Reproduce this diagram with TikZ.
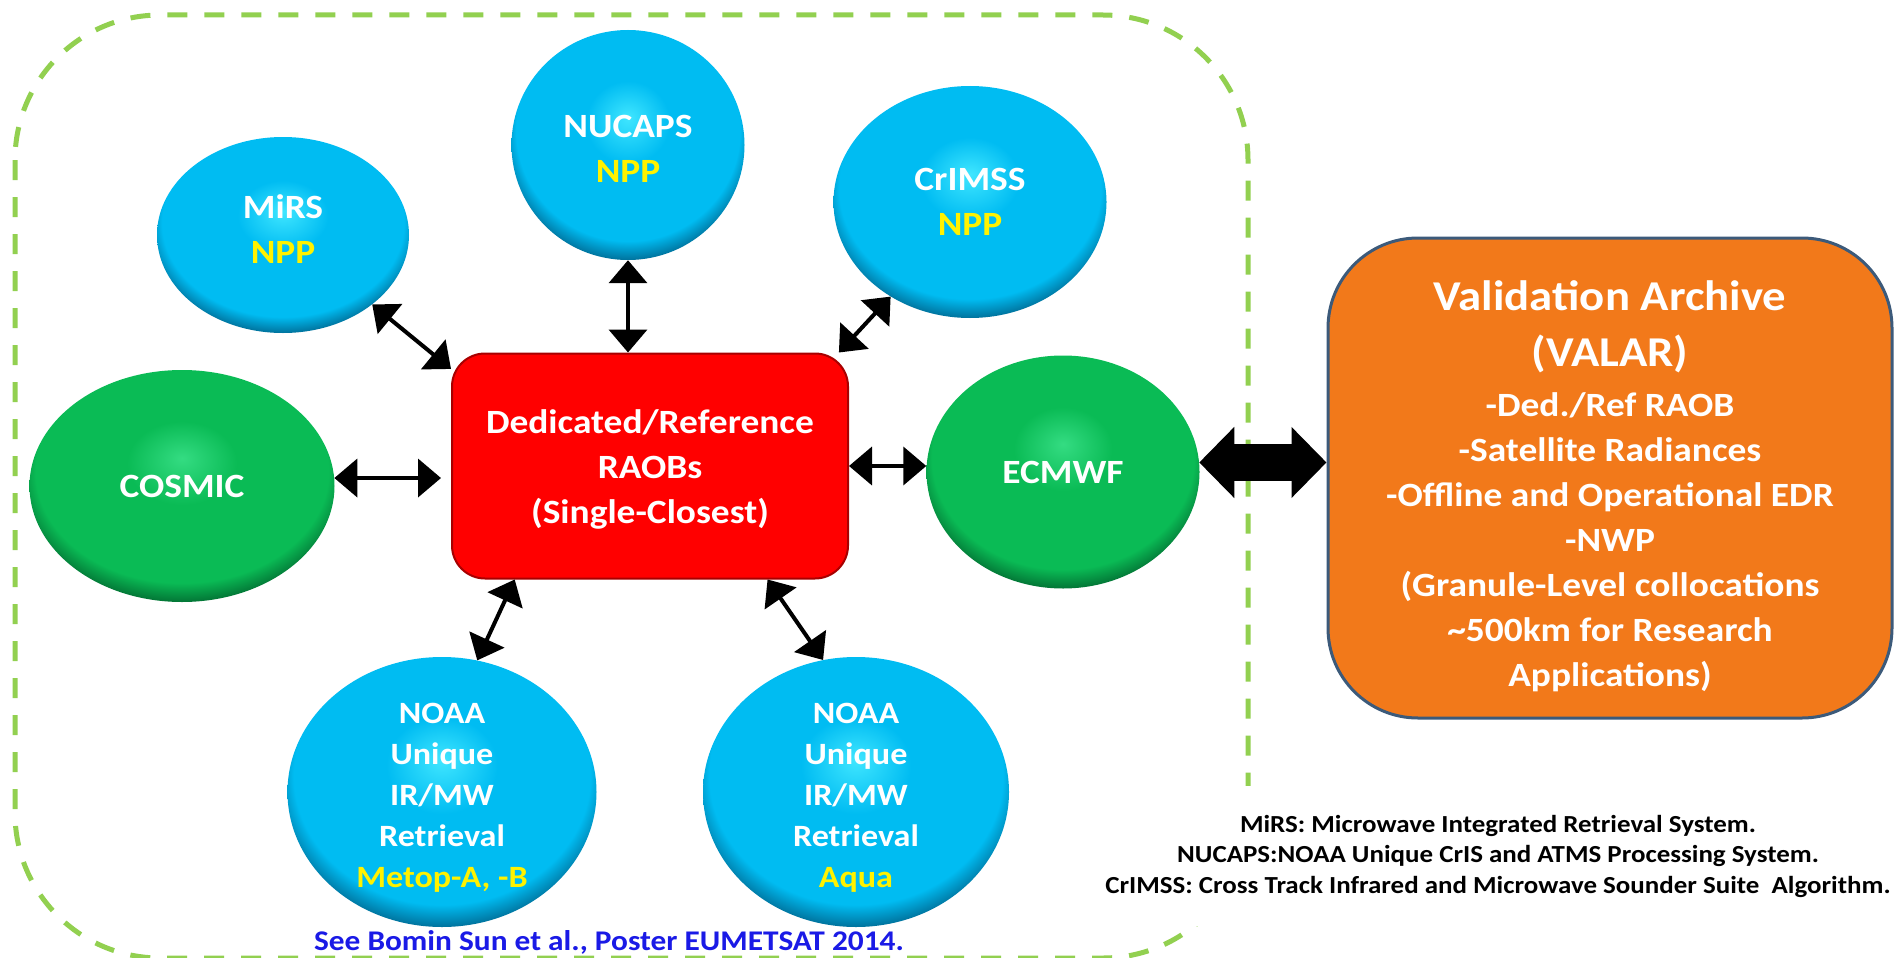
\documentclass[tikz,border=0pt]{standalone}
\usepackage{fontspec}
\setmainfont{Carlito}[FakeStretch=1.1]
\usetikzlibrary{shapes.geometric,arrows.meta}
\definecolor{skyb}{HTML}{00BCF2}
\definecolor{skyhi}{HTML}{40E6FF}
\definecolor{skydk}{HTML}{00587E}
\definecolor{grnb}{HTML}{0ABB55}
\definecolor{grnhi}{HTML}{34DC82}
\definecolor{grndk}{HTML}{005C2A}
\definecolor{dashgrn}{HTML}{92D050}
\definecolor{raobdk}{HTML}{A80000}
\definecolor{valorg}{HTML}{F2791A}
\definecolor{valdk}{HTML}{3C5A7A}
\definecolor{noteblue}{HTML}{1A1AE6}
\pgfdeclareradialshading{bluegloss}{\pgfpoint{0bp}{6bp}}{color(0bp)=(skyhi); color(9bp)=(skyb); color(24bp)=(skyb); color(29bp)=(skydk); color(50bp)=(skydk)}
\pgfdeclareradialshading{greengloss}{\pgfpoint{0bp}{6bp}}{color(0bp)=(grnhi); color(9bp)=(grnb); color(24bp)=(grnb); color(29bp)=(grndk); color(50bp)=(grndk)}
\begin{document}
\begin{tikzpicture}[x=1pt,y=-1pt,line join=round,>={Triangle[length=23pt,width=38pt]},
	bub/.style={ellipse,inner sep=-15pt,align=center,text=white,font=\fontsize{34}{45}\selectfont\bfseries,shade},
	bluebub/.style={bub,shading=bluegloss},
	greenbub/.style={bub,shading=greengloss},
	five/.style={font=\fontsize{31}{41}\selectfont\bfseries},
	fat/.style={line width=37pt,{Triangle[length=35pt,width=69pt]}-{Triangle[length=35pt,width=69pt]}}]
	\path[fill=white,use as bounding box] (0,0) rectangle (1896,958);
	\draw[dashgrn,line width=5pt,dash pattern=on 20pt off 17pt,rounded corners=145pt] (15,15) rectangle (1248,958);
	\node[fill=white,minimum width=796pt,minimum height=140pt,align=center,font=\fontsize{24.5}{30.5}\selectfont\bfseries] (abbr) at (1498,856) {MiRS: Microwave Integrated Retrieval System.\\NUCAPS:NOAA Unique CrIS and ATMS Processing System.\\CrIMSS: Cross Track Infrared and Microwave Sounder Suite\ \ Algorithm.};
	\node[anchor=base,text=noteblue,font=\fontsize{28.5}{30}\selectfont\bfseries] (note) at (609,950) {See Bomin Sun et al., Poster EUMETSAT 2014.};
	\node[draw=raobdk,line width=2pt,fill=red,rounded corners=33pt,minimum width=396pt,minimum height=225pt,align=center,text=white,font=\fontsize{34}{45}\selectfont\bfseries] (raob) at (650,466) {\rule{0pt}{30pt}Dedicated/Reference\\RAOBs\\(Single-Closest)};
	\node[draw=valdk,line width=3pt,fill=valorg,rounded corners=90pt,minimum width=564pt,minimum height=480pt,align=center,text=white,font=\fontsize{34}{45}\selectfont\bfseries] (valar) at (1610,478) {{\fontsize{42.5}{50}\selectfont\rule{0pt}{46pt}Validation Archive}\\[11pt]{\fontsize{42.5}{50}\selectfont (VALAR)}\\[5pt]-Ded./Ref RAOB\\-Satellite Radiances\\-Offline and Operational EDR\\-NWP\\(Granule-Level collocations\\\textasciitilde500km for Research\\Applications)};
	\node[bluebub,minimum width=252pt,minimum height=196pt] (mirs) at (283,235) {MiRS\\\textcolor{yellow}{NPP}\rule[-12pt]{0pt}{12pt}};
	\node[bluebub,minimum width=233pt,minimum height=230pt] (nucaps) at (628,145) {\rule{0pt}{29pt}NUCAPS\\\textcolor{yellow}{NPP}};
	\node[bluebub,minimum width=273pt,minimum height=232pt] (crimss) at (970,202) {CrIMSS\\\textcolor{yellow}{NPP}};
	\node[greenbub,minimum width=305pt,minimum height=232pt] (cosmic) at (182,486) {COSMIC};
	\node[greenbub,minimum width=273pt,minimum height=233pt] (ecmwf) at (1063,472) {ECMWF};
	\node[bluebub,five,minimum width=309pt,minimum height=270pt] (noaaa) at (442,792) {\rule{0pt}{32pt}NOAA\\Unique\\IR/MW\\Retrieval\\\textcolor{yellow}{Metop-A, -B}};
	\node[bluebub,five,minimum width=306pt,minimum height=270pt] (noaab) at (856,792) {\rule{0pt}{32pt}NOAA\\Unique\\IR/MW\\Retrieval\\\textcolor{yellow}{Aqua}};
	\draw[<->,line width=4pt] (mirs.south east) -- (raob.154);
	\draw[<->,line width=4pt] (nucaps.south) -- (nucaps.south |- raob.north);
	\draw[<->,line width=4pt] (crimss.230) -- (raob.31);
	\draw[<->,line width=4pt,shorten >=10pt] (cosmic.3) -- (cosmic.3 -| raob.west);
	\draw[<->,line width=4pt] (raob.east) -- (raob.east -| ecmwf.west);
	\draw[<->,line width=4pt] (raob.220) -- (noaaa.75);
	\draw[<->,line width=4pt] (raob.316) -- (noaab.104);
	\draw[fat] (ecmwf.4) -- (ecmwf.4 -| valar.west);
\end{tikzpicture}
\end{document}
